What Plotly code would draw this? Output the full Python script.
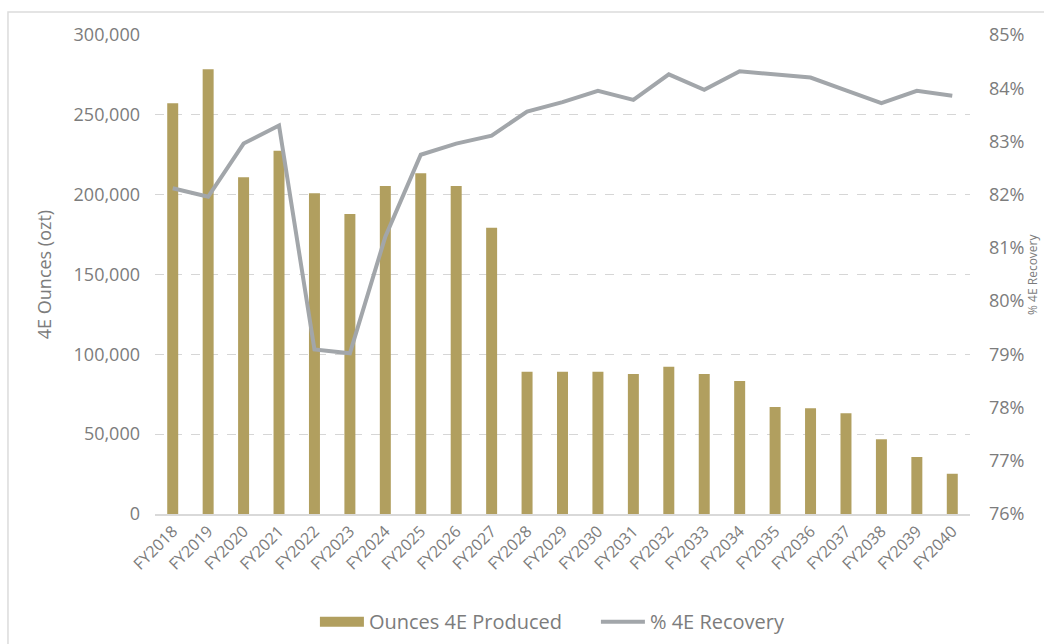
import plotly.graph_objects as go

years = [f"FY{y}" for y in range(2018, 2041)]

ounces_4e = [257200, 278500, 210900, 227500, 200900, 187900, 205400, 213400,
             205400, 179300, 89100, 89100, 89100, 87700, 92300, 87700,
             83300, 67000, 66200, 63100, 46800, 35700, 25200]

recovery_pct = [82.12, 81.96, 82.96, 83.30, 79.09, 79.02, 81.21, 82.75,
                82.96, 83.11, 83.56, 83.74, 83.95, 83.78, 84.26, 83.97,
                84.32, 84.26, 84.20, 83.96, 83.72, 83.95, 83.86]

left_ticks = [0, 50000, 100000, 150000, 200000, 250000, 300000]
left_tick_text = ["0", "50,000", "100,000", "150,000", "200,000", "250,000", "300,000"]
right_ticks = list(range(76, 86))
right_tick_text = [f"{v}%" for v in right_ticks]

GOLD = "#b19f5f"
LINE_GREY = "#a2a6aa"
TEXT_GREY = "#7c7c7c"
FONT = "Open Sans"

fig = go.Figure()

fig.add_trace(go.Bar(
    x=years, y=ounces_4e, name="Ounces 4E Produced",
    marker=dict(color=GOLD, line=dict(width=0)),
    yaxis="y", showlegend=False, legendgroup="oz",
))

# Wide gold swatch for the bar series in the legend
fig.add_trace(go.Scatter(
    x=[None], y=[None], name="Ounces 4E Produced", mode="lines",
    line=dict(color=GOLD, width=11), legendgroup="oz", hoverinfo="skip",
))

fig.add_trace(go.Scatter(
    x=years, y=recovery_pct, name="% 4E Recovery",
    mode="lines", line=dict(color=LINE_GREY, width=4),
    yaxis="y2",
))

fig.update_layout(
    width=1044, height=644,
    margin=dict(l=155, r=74, t=35, b=130),
    paper_bgcolor="white", plot_bgcolor="white",
    font=dict(family=FONT, color=TEXT_GREY, size=15),
    bargap=0.69,
    showlegend=True,
    legend=dict(orientation="h", x=0.541, xanchor="center",
                yref="container", y=0.065, yanchor="top",
                font=dict(size=20, color=TEXT_GREY), itemwidth=44,
                entrywidth=222, traceorder="normal"),
    xaxis=dict(
        type="category", tickangle=-45, showgrid=False,
        showline=True, linecolor="#d9d9d9", linewidth=1.5,
        ticks="", tickfont=dict(size=16, color=TEXT_GREY),
        range=[-0.5, 22.5],
    ),
    yaxis=dict(
        range=[0, 300000], tickvals=left_ticks, ticktext=left_tick_text,
        showgrid=True, gridcolor="#d6d6d6", griddash="dash", gridwidth=1.2,
        zeroline=False, showline=False, ticks="",
        ticklabelstandoff=14,
        tickfont=dict(size=18, color=TEXT_GREY),
        title=dict(text="4E Ounces (ozt)", font=dict(size=18, color=TEXT_GREY), standoff=17),
    ),
    yaxis2=dict(
        range=[76, 85], tickvals=right_ticks, ticktext=right_tick_text,
        overlaying="y", side="right", showgrid=False, zeroline=False,
        showline=False, ticks="", ticklabelstandoff=18,
        tickfont=dict(size=18, color=TEXT_GREY),
    ),
)

# Secondary axis title along the right edge of the page
fig.add_annotation(
    text="% 4E Recovery", textangle=-90, showarrow=False,
    xref="paper", yref="paper", x=1.0895, y=0.5, xanchor="right", yanchor="middle",
    font=dict(size=12, color=TEXT_GREY),
)

# Light frame around the chart area
fig.add_shape(
    type="rect", xref="paper", yref="paper",
    x0=-0.1804, x1=1.3, y0=-0.5, y1=1.048,
    line=dict(color="#dcdcdc", width=1.5), fillcolor="rgba(0,0,0,0)", layer="below",
)

fig.write_html("out.html")
